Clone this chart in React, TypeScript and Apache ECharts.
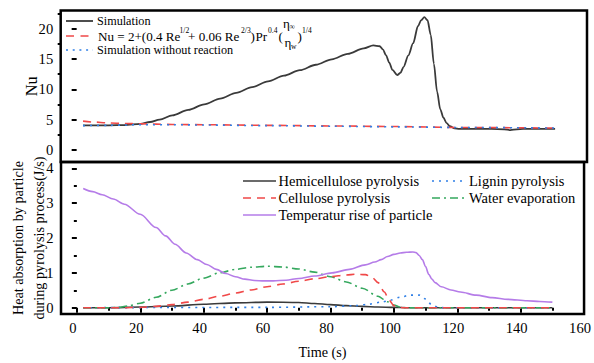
import React, { useEffect, useRef } from 'react';
import * as echarts from 'echarts';

const FONT = 'Liberation Serif';

// ---- Top panel: Nusselt number ----
const simTime = [2, 10, 15, 20, 23, 26, 30, 35, 40, 45, 50, 55, 60, 65, 70, 75, 80, 85, 90, 93, 95, 96, 97, 98, 99, 100.5, 101.5, 102.5, 104, 105.5, 107, 108, 109, 110, 111, 112, 113, 114, 115, 116, 117, 118.5, 120, 125, 130, 134, 136, 138, 140, 145, 150];
const simNu = [4.05, 4.05, 4.1, 4.3, 4.6, 5.0, 5.7, 6.6, 7.5, 8.45, 9.4, 10.35, 11.3, 12.25, 13.15, 14.05, 14.95, 15.85, 16.75, 17.25, 17.1, 16.6, 15.6, 14.4, 13.2, 12.35, 12.7, 13.7, 15.6, 17.6, 20.4, 21.4, 21.9, 21.4, 19.0, 14.2, 9.6, 6.7, 5.3, 4.4, 3.9, 3.55, 3.45, 3.45, 3.45, 3.4, 3.25, 3.4, 3.45, 3.45, 3.45];

const corrTime = [2, 5, 10, 15, 20, 30, 40, 60, 80, 100, 120, 150];
const corrNu = [4.75, 4.6, 4.45, 4.35, 4.3, 4.2, 4.15, 4.05, 3.95, 3.85, 3.7, 3.6];

const noRxnTime = [2, 10, 20, 30, 40, 60, 80, 100, 120, 150];
const noRxnNu = [4.0, 4.05, 4.15, 4.15, 4.1, 4.0, 3.9, 3.8, 3.7, 3.6];

// ---- Bottom panel: heat absorption (J/s) ----
const hemiTime = [2, 10, 20, 30, 40, 50, 60, 70, 75, 80, 85, 90, 95, 100, 105, 150];
const hemiHeat = [0, 0, 0.02, 0.05, 0.1, 0.14, 0.16, 0.15, 0.12, 0.09, 0.06, 0.04, 0.02, 0.01, 0, 0];

const celluTime = [2, 15, 20, 25, 30, 35, 40, 45, 50, 55, 60, 65, 70, 75, 80, 85, 88, 91, 93, 95, 97, 98.5, 100, 101.5, 103, 150];
const celluHeat = [0, 0, 0.01, 0.04, 0.09, 0.16, 0.24, 0.33, 0.42, 0.51, 0.6, 0.68, 0.76, 0.83, 0.89, 0.94, 0.96, 0.95, 0.88, 0.72, 0.45, 0.22, 0.06, 0.01, 0, 0];

const ligninTime = [2, 60, 80, 88, 92, 96, 99, 102, 105, 108, 110, 112, 114, 116, 150];
const ligninHeat = [0, 0.01, 0.03, 0.06, 0.1, 0.16, 0.22, 0.3, 0.36, 0.36, 0.25, 0.08, 0.01, 0, 0];

const waterTime = [2, 10, 13, 16, 20, 25, 30, 35, 40, 45, 50, 55, 60, 65, 70, 75, 80, 85, 90, 95, 98, 100, 102, 104, 150];
const waterHeat = [0, 0, 0.01, 0.05, 0.13, 0.3, 0.5, 0.68, 0.85, 1.0, 1.1, 1.16, 1.19, 1.17, 1.11, 1.02, 0.89, 0.74, 0.56, 0.33, 0.17, 0.08, 0.02, 0, 0];

const tempTime = [2, 5, 8, 11.5, 15, 20, 25, 28, 31, 34.5, 38, 41, 44, 47, 50, 53, 56, 59, 62, 66, 70, 75, 80.5, 86, 91, 94, 96, 98, 100, 102, 104, 106, 107, 108, 109, 110, 111, 112, 113, 115, 118, 121, 126, 131, 136, 142, 146, 150];
const tempHeat = [3.42, 3.33, 3.24, 3.12, 2.97, 2.68, 2.3, 2.06, 1.82, 1.57, 1.38, 1.24, 1.1, 0.98, 0.89, 0.82, 0.78, 0.77, 0.77, 0.79, 0.84, 0.91, 1.0, 1.1, 1.23, 1.31, 1.38, 1.47, 1.53, 1.57, 1.59, 1.6, 1.58, 1.5, 1.38, 1.18, 0.96, 0.82, 0.72, 0.6, 0.51, 0.45, 0.36, 0.29, 0.24, 0.2, 0.18, 0.16];

// ---- Ticks ----
const xMajorTicks = [0, 20, 40, 60, 80, 100, 120, 140, 160];
const xMinorTicks = [10, 30, 50, 70, 90, 110, 130, 150];
const nuMajorTicks = [0, 5, 10, 15, 20];
const nuMinorTicks = [2.5, 7.5, 12.5, 17.5, 22.5];
const heatMajorTicks = [0, 1, 2, 3, 4];
const heatMinorTicks = [0.5, 1.5, 2.5, 3.5];

const GRAY = '#3a3a3a';
const RED = '#f04848';
const BLUE = '#2f7fe6';
const GREEN = '#35a85e';
const PURPLE = '#b57ce8';

const DASH = [8, 6];
const DOT = [2, 5];
const DASHDOT = [8, 4, 2, 4];

const zip = (t: number[], v: number[]) => t.map((x, i) => [x, v[i]]);

const lineSeries = (name: string, t: number[], v: number[], color: string, type: any, width: number, xi: number, yi: number) => ({
  name,
  type: 'line',
  xAxisIndex: xi,
  yAxisIndex: yi,
  data: zip(t, v),
  symbol: 'none',
  showSymbol: false,
  smooth: 0.3,
  smoothMonotone: 'x',
  lineStyle: { color, width, type },
  itemStyle: { color },
  emphasis: { disabled: true },
});

const txt = (text: string, x: number, y: number, size: number) => ({
  type: 'text',
  x,
  y,
  silent: true,
  style: {
    text,
    fontSize: size,
    fontFamily: FONT,
    fill: '#000',
    align: 'left',
    verticalAlign: 'middle',
  },
});

const seg = (x1: number, y: number, x2: number, color: string, dash: number[] | null, w = 1.6) => ({
  type: 'line',
  silent: true,
  shape: { x1, y1: y, x2, y2: y },
  style: dash ? { stroke: color, lineWidth: w, lineDash: dash } : { stroke: color, lineWidth: w },
});

export default function App() {
  const ref = useRef<HTMLDivElement>(null);
  useEffect(() => {
    if (!ref.current) return;
    const chart = echarts.init(ref.current, undefined, { renderer: 'svg' });
    const tickStyle = { color: '#000', width: 2 };
    const labelStyle = { fontSize: 14.6, color: '#000', fontFamily: FONT, fontWeight: 'normal' };
    const nameStyle = { fontSize: 14.2, fontFamily: FONT, color: '#000', fontWeight: 'normal' };
    const option: any = {
      animation: false,
      backgroundColor: '#fff',
      textStyle: { fontFamily: FONT },
      grid: [
        { left: 60.7, top: 10.5, width: 526.3, height: 151.5, show: true, borderColor: '#000', borderWidth: 2.5, backgroundColor: 'transparent' },
        { left: 60.7, top: 162, width: 526.3, height: 152, show: true, borderColor: '#000', borderWidth: 2.5, backgroundColor: 'transparent' },
      ],
      xAxis: [
        { gridIndex: 0, type: 'value', min: -5, max: 160, show: false },
        {
          gridIndex: 1, type: 'value', min: -5, max: 160, position: 'bottom',
          axisLine: { show: false },
          axisTick: { show: true, length: 5, customValues: xMajorTicks, lineStyle: tickStyle },
          axisLabel: { ...labelStyle, customValues: xMajorTicks, margin: 6, padding: [0, 8, 0, 0] },
          splitLine: { show: false },
          name: 'Time (s)', nameLocation: 'middle', nameGap: 31, nameMoveOverlap: false,
          nameTextStyle: nameStyle,
        },
        {
          gridIndex: 1, type: 'value', min: -5, max: 160, position: 'bottom',
          axisLine: { show: false },
          axisTick: { show: true, length: 3, customValues: xMinorTicks, lineStyle: tickStyle },
          axisLabel: { show: false },
          splitLine: { show: false },
        },
      ],
      yAxis: [
        {
          gridIndex: 0, type: 'value', min: -2, max: 23, position: 'left',
          axisLine: { show: false },
          axisTick: { show: true, length: 5, customValues: nuMajorTicks, lineStyle: tickStyle },
          axisLabel: { ...labelStyle, customValues: nuMajorTicks, margin: 7.5 },
          splitLine: { show: false },
          name: 'Nu', nameLocation: 'middle', nameGap: 21, nameMoveOverlap: false,
          nameTextStyle: { ...nameStyle, fontSize: 16.3 },
        },
        {
          gridIndex: 0, type: 'value', min: -2, max: 23, position: 'left', offset: 0,
          axisLine: { show: false },
          axisTick: { show: true, length: 3, customValues: nuMinorTicks, lineStyle: tickStyle },
          axisLabel: { show: false },
          splitLine: { show: false },
        },
        {
          gridIndex: 1, type: 'value', min: -0.18, max: 4.18, position: 'left',
          axisLine: { show: false },
          axisTick: { show: true, length: 5, customValues: heatMajorTicks, lineStyle: tickStyle },
          axisLabel: { ...labelStyle, customValues: heatMajorTicks, margin: 7.5 },
          splitLine: { show: false },
          name: 'Heat absorption by particle\nduring pyrolysis process(J/s)', nameLocation: 'middle', nameGap: 12, nameMoveOverlap: false,
          nameTextStyle: { ...nameStyle, lineHeight: 20.5, align: 'center' },
        },
        {
          gridIndex: 1, type: 'value', min: -0.18, max: 4.18, position: 'left', offset: 0,
          axisLine: { show: false },
          axisTick: { show: true, length: 3, customValues: heatMinorTicks, lineStyle: tickStyle },
          axisLabel: { show: false },
          splitLine: { show: false },
        },
      ],
      graphic: [
        // top legend
        seg(66, 21, 93, GRAY, null, 1.8),
        txt('Simulation', 97, 21, 12.2),
        seg(66, 36, 91, RED, [8, 6.5], 1.5),
        txt('Nu = 2+(0.4 Re', 98, 36, 13.1),
        txt('1/2', 179.5, 30.5, 7.6),
        txt('+ 0.06 Re', 188, 36, 13.1),
        txt('2/3', 241, 30.5, 7.6),
        txt(')', 250.5, 36, 13.1),
        txt('Pr', 255.5, 36, 13.1),
        txt('0.4', 268, 30.5, 7.6),
        txt('(', 278.5, 36, 13.1),
        txt('η', 283, 23, 13.1),
        txt('∞', 289.5, 26.5, 7.6),
        txt('η', 284.5, 42.5, 13.1),
        txt('w', 291, 46, 7.6),
        txt(')', 297.5, 36, 13.1),
        txt('1/4', 302, 30.5, 7.6),
        seg(66, 50, 93, BLUE, [2, 4.7], 1.5),
        txt('Simulation without reaction', 97, 50, 12.2),
        // bottom legend
        seg(243, 181, 276, GRAY, null),
        txt('Hemicellulose pyrolysis', 278.5, 181, 14.5),
        seg(243, 198, 276, RED, DASH),
        txt('Cellulose pyrolysis', 278.5, 198, 14.5),
        seg(243, 215, 276, PURPLE, null),
        txt('Temperatur rise of particle', 278.5, 215, 14.5),
        seg(432, 181, 466, BLUE, DOT),
        txt('Lignin pyrolysis', 469, 181, 14.5),
        seg(432, 198, 466, GREEN, DASHDOT),
        txt('Water evaporation', 469, 198, 14.5),
      ],
      series: [
        lineSeries('Simulation', simTime, simNu, GRAY, 'solid', 1.8, 0, 0),
        lineSeries('Nu correlation', corrTime, corrNu, RED, DASH, 1.6, 0, 0),
        lineSeries('Simulation without reaction', noRxnTime, noRxnNu, BLUE, DOT, 1.6, 0, 0),
        lineSeries('Hemicellulose pyrolysis', hemiTime, hemiHeat, GRAY, 'solid', 1.6, 1, 2),
        lineSeries('Lignin pyrolysis', ligninTime, ligninHeat, BLUE, DOT, 1.6, 1, 2),
        lineSeries('Water evaporation', waterTime, waterHeat, GREEN, DASHDOT, 1.6, 1, 2),
        lineSeries('Cellulose pyrolysis', celluTime, celluHeat, RED, DASH, 1.6, 1, 2),
        lineSeries('Temperatur rise of particle', tempTime, tempHeat, PURPLE, 'solid', 1.6, 1, 2),
      ],
    };
    chart.setOption(option);
    return () => chart.dispose();
  }, []);
  return <div ref={ref} style={{ position: 'absolute', left: 0, top: 0, width: 594, height: 363 }} />;
}
